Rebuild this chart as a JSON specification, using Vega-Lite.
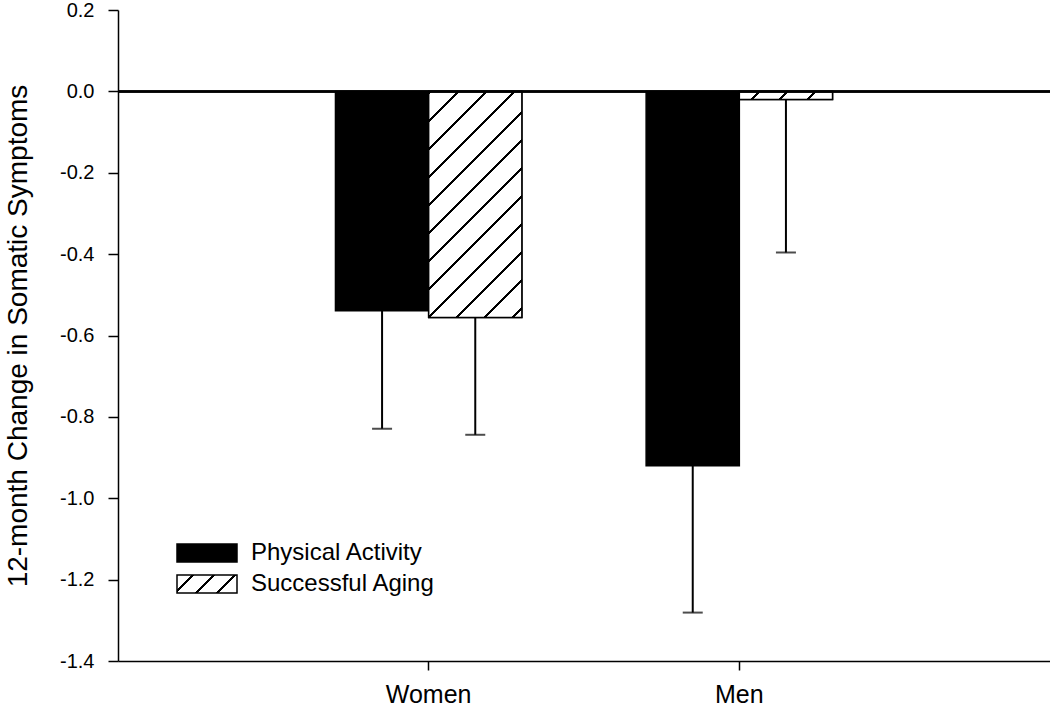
{
  "$schema": "https://vega.github.io/schema/vega-lite/v6.json",
  "width": 932,
  "height": 651,
  "autosize": "none",
  "padding": {"left": 118, "top": 10, "right": 0, "bottom": 45},
  "background": "white",
  "config": {
    "font": "Liberation Sans",
    "view": {"stroke": null},
    "axis": {"grid": false, "domainColor": "black", "domainWidth": 1.5, "tickColor": "black", "tickWidth": 1.5, "labelColor": "black", "titleColor": "black", "labelFont": "Liberation Sans", "titleFont": "Liberation Sans", "titleFontWeight": "normal"}
  },
  "data": {
    "values": [
      {"group": "Women", "series": "Physical Activity", "value": -0.539, "low": -0.829},
      {"group": "Women", "series": "Successful Aging", "value": -0.556, "low": -0.844},
      {"group": "Men", "series": "Physical Activity", "value": -0.92, "low": -1.281},
      {"group": "Men", "series": "Successful Aging", "value": -0.02, "low": -0.396}
    ]
  },
  "encoding": {
    "x": {
      "field": "group", "type": "nominal", "sort": ["Women", "Men"],
      "scale": {"paddingInner": 0.4, "paddingOuter": 0.7},
      "axis": {"title": null, "labelAngle": 0, "labelFontSize": 25, "tickSize": 9, "labelPadding": 12}
    },
    "xOffset": {"field": "series", "type": "nominal", "sort": ["Physical Activity", "Successful Aging"], "scale": {"paddingInner": 0, "paddingOuter": 0}}
  },
  "layer": [
    {
      "mark": {"type": "bar", "stroke": "black", "strokeWidth": 1.5},
      "encoding": {
        "y": {
          "field": "value", "type": "quantitative",
          "scale": {"domain": [-1.4, 0.2], "nice": false, "zero": false},
          "axis": {"title": "12-month Change in Somatic Symptoms", "titleFontSize": 28, "titlePadding": 27, "values": [-1.4, -1.2, -1.0, -0.8, -0.6, -0.4, -0.2, 0.0, 0.2], "labelExpr": "replace(format(datum.value, '.1f'), '\u2212', '-')", "labelFontSize": 20, "tickSize": 10, "labelPadding": 14}
        },
        "y2": {"datum": 0},
        "fill": {
          "field": "series", "type": "nominal",
          "scale": {
            "domain": ["Physical Activity", "Successful Aging"],
            "range": ["black", {"expr": "{gradient: 'linear', x1: 0, y1: 0, x2: 1.1927, y2: 0.3578, stops: [{offset: 0, color: 'white'}, {offset: 0.1872, color: 'white'}, {offset: 0.1872, color: 'black'}, {offset: 0.2231, color: 'black'}, {offset: 0.2231, color: 'white'}, {offset: 0.4564, color: 'white'}, {offset: 0.4564, color: 'black'}, {offset: 0.4923, color: 'black'}, {offset: 0.4923, color: 'white'}, {offset: 0.7256, color: 'white'}, {offset: 0.7256, color: 'black'}, {offset: 0.7615, color: 'black'}, {offset: 0.7615, color: 'white'}, {offset: 1, color: 'white'}]}"}]
          },
          "legend": {
            "title": null, "orient": "none", "legendX": 77, "legendY": 531,
            "symbolType": "M-3,-0.9H3V0.9H-3Z", "symbolSize": 400,
            "symbolStrokeColor": "black", "symbolStrokeWidth": 1.5,
            "labelFontSize": 24, "labelOffset": 32, "labelColor": "black", "labelLimit": 400, "rowPadding": 7, "padding": 0
          }
        }
      }
    },
    {
      "transform": [{"filter": "datum.series === 'Successful Aging' && datum.group === 'Women'"}],
      "mark": {
        "type": "bar", "stroke": "black", "strokeWidth": 1.5,
        "fill": {"gradient": "linear", "x1": 0, "y1": 0, "x2": 0.4974, "y2": 1.2067, "stops": [
          {"offset": 0, "color": "white"},
          {"offset": 0.0019, "color": "white"}, {"offset": 0.0019, "color": "black"}, {"offset": 0.0107, "color": "black"}, {"offset": 0.0107, "color": "white"},
          {"offset": 0.0896, "color": "white"}, {"offset": 0.0896, "color": "black"}, {"offset": 0.0984, "color": "black"}, {"offset": 0.0984, "color": "white"},
          {"offset": 0.1773, "color": "white"}, {"offset": 0.1773, "color": "black"}, {"offset": 0.1861, "color": "black"}, {"offset": 0.1861, "color": "white"},
          {"offset": 0.2650, "color": "white"}, {"offset": 0.2650, "color": "black"}, {"offset": 0.2738, "color": "black"}, {"offset": 0.2738, "color": "white"},
          {"offset": 0.3528, "color": "white"}, {"offset": 0.3528, "color": "black"}, {"offset": 0.3615, "color": "black"}, {"offset": 0.3615, "color": "white"},
          {"offset": 0.4405, "color": "white"}, {"offset": 0.4405, "color": "black"}, {"offset": 0.4492, "color": "black"}, {"offset": 0.4492, "color": "white"},
          {"offset": 0.5282, "color": "white"}, {"offset": 0.5282, "color": "black"}, {"offset": 0.5370, "color": "black"}, {"offset": 0.5370, "color": "white"},
          {"offset": 0.6159, "color": "white"}, {"offset": 0.6159, "color": "black"}, {"offset": 0.6247, "color": "black"}, {"offset": 0.6247, "color": "white"},
          {"offset": 0.7036, "color": "white"}, {"offset": 0.7036, "color": "black"}, {"offset": 0.7124, "color": "black"}, {"offset": 0.7124, "color": "white"},
          {"offset": 0.7914, "color": "white"}, {"offset": 0.7914, "color": "black"}, {"offset": 0.8001, "color": "black"}, {"offset": 0.8001, "color": "white"},
          {"offset": 0.8791, "color": "white"}, {"offset": 0.8791, "color": "black"}, {"offset": 0.8878, "color": "black"}, {"offset": 0.8878, "color": "white"},
          {"offset": 0.9668, "color": "white"}, {"offset": 0.9668, "color": "black"}, {"offset": 0.9756, "color": "black"}, {"offset": 0.9756, "color": "white"},
          {"offset": 1, "color": "white"}
        ]}
      },
      "encoding": {
        "y": {"field": "value", "type": "quantitative"},
        "y2": {"datum": 0}
      }
    },
    {
      "transform": [{"filter": "datum.series === 'Successful Aging' && datum.group === 'Men'"}],
      "mark": {
        "type": "bar", "stroke": "black", "strokeWidth": 1.5,
        "fill": {"gradient": "linear", "x1": 0, "y1": 0, "x2": 1.0788, "y2": 0.0938, "stops": [
          {"offset": 0, "color": "white"},
          {"offset": 0.1836, "color": "white"}, {"offset": 0.1836, "color": "black"}, {"offset": 0.2113, "color": "black"}, {"offset": 0.2113, "color": "white"},
          {"offset": 0.4600, "color": "white"}, {"offset": 0.4600, "color": "black"}, {"offset": 0.4877, "color": "black"}, {"offset": 0.4877, "color": "white"},
          {"offset": 0.7364, "color": "white"}, {"offset": 0.7364, "color": "black"}, {"offset": 0.7641, "color": "black"}, {"offset": 0.7641, "color": "white"},
          {"offset": 1, "color": "white"}
        ]}
      },
      "encoding": {
        "y": {"field": "value", "type": "quantitative"},
        "y2": {"datum": 0}
      }
    },
    {
      "mark": {"type": "rule", "color": "black", "strokeWidth": 2},
      "encoding": {"y": {"datum": 0}, "x": {}, "xOffset": {}}
    },
    {
      "mark": {"type": "rule", "color": "black", "strokeWidth": 2},
      "encoding": {
        "y": {"field": "value", "type": "quantitative"},
        "y2": {"field": "low"}
      }
    },
    {
      "mark": {"type": "tick", "orient": "horizontal", "color": "black", "size": 20, "thickness": 2},
      "encoding": {
        "y": {"field": "low", "type": "quantitative"}
      }
    }
  ]
}
